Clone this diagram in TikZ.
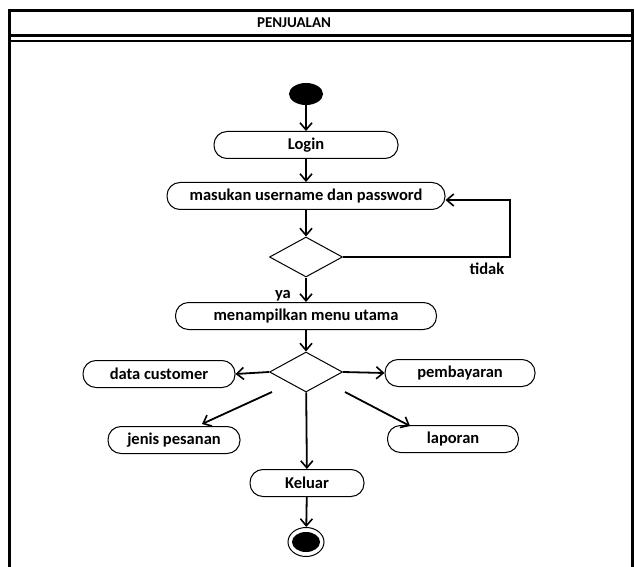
\documentclass[tikz,border=0pt]{standalone}
\usepackage{fontspec}
\setmainfont{Carlito}
\usetikzlibrary{arrows.meta,shapes.geometric}
\begin{document}
\begin{tikzpicture}[x=1pt,y=-1pt,
  every node/.style={font=\fontsize{16.5}{19}\selectfont\bfseries},
  act/.style={draw,line width=1pt,rounded corners=13pt,minimum height=27pt,inner sep=0pt},
  dec/.style={draw,line width=1pt,diamond,minimum width=73pt,minimum height=40pt,inner sep=0pt,aspect=1.8},
  flow/.style={line width=1.8pt,-{Straight Barb[length=7pt,width=12pt,line width=1.6pt]}},
  lbl/.style={inner sep=0pt}]
\useasboundingbox (0,0) rectangle (635,567);
% frame
\draw[line width=3pt] (9,567) -- (9,11) -- (632,11) -- (632,567);
\draw[line width=3pt] (9,36) -- (632,36);
\draw[line width=2.5pt] (9,41) -- (632,41);
\node[lbl,font=\fontsize{15}{17}\selectfont\bfseries] (title) at (294,23) {PENJUALAN};
% nodes
\node[fill=black,ellipse,minimum width=34pt,minimum height=22pt,inner sep=0pt] (start) at (306,94) {};
\node[act,minimum width=184pt] (login) at (306,145) {Login};
\node[act,minimum width=278pt,rounded corners=13pt] (masuk) at (306,196) {masukan username dan password};
\node[dec] (d1) at (306,257) {};
\node[act,minimum width=261pt] (menu) at (306,316) {menampilkan menu utama};
\node[dec] (d2) at (306,372) {};
\node[act,minimum width=152pt] (cust) at (159,374) {data customer};
\node[act,minimum width=150pt] (bayar) at (460,373) {pembayaran};
\node[act,minimum width=132pt] (jenis) at (174,440) {jenis pesanan};
\node[act,minimum width=131pt] (lap) at (453,439) {laporan};
\node[act,minimum width=114pt] (kel) at (307,483) {Keluar};
\node[draw,line width=1pt,ellipse,minimum width=36pt,minimum height=29pt,inner sep=0pt] (end) at (306,542) {};
\node[fill=black,ellipse,minimum width=28pt,minimum height=20pt,inner sep=0pt] at (end) {};
\coordinate (c1) at (510,257);
\coordinate (c2) at (510,200);
\coordinate (a1) at (272,392);
\coordinate (a2) at (202,424);
\coordinate (b1) at (345,392);
\coordinate (b2) at (410,426);
% labels
\node[lbl] (tidak) at (487,269) {tidak};
\node[lbl] (ya) at (283,296) {ya};
% edges
\draw[flow] (start) -- (login);
\draw[flow] (login) -- (masuk);
\draw[flow] (masuk) -- (d1);
\draw[flow] (d1.east) -- (c1) -- (c2) -- (masuk.east |- c2);
\draw[flow] (d1) -- (menu);
\draw[flow] (menu) -- (d2);
\draw[flow] (d2.west) -- (cust.east);
\draw[flow] (d2.east) -- (bayar.west);
\draw[flow] (a1) -- (a2);
\draw[flow] (b1) -- (b2);
\draw[flow] (d2) -- (kel);
\draw[flow] (kel) -- (end);
\end{tikzpicture}
\end{document}
